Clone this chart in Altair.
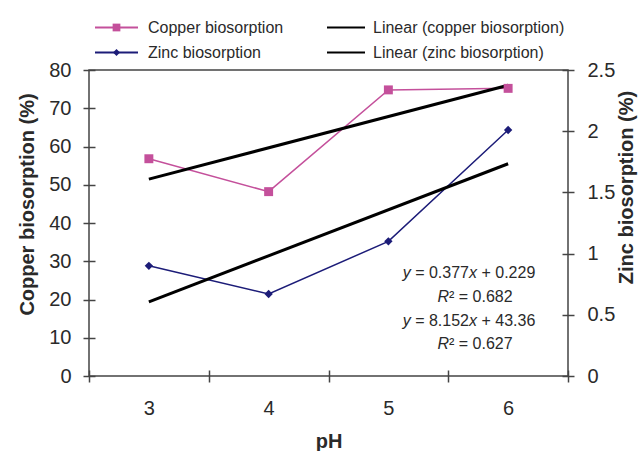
import altair as alt
import pandas as pd

# ---- data ----
ph = [3, 4, 5, 6]
copper = [56.8, 48.2, 74.8, 75.2]          # Copper biosorption (%), left axis
zinc = [0.90, 0.67, 1.10, 2.01]            # Zinc biosorption (%), right axis

copper_ticks = [0, 10, 20, 30, 40, 50, 60, 70, 80]
zinc_ticks = [0, 0.5, 1, 1.5, 2, 2.5]
x_ticks = [2.5, 3, 3.5, 4, 4.5, 5, 5.5, 6, 6.5]

series_names = ["Copper biosorption", "Zinc biosorption",
                "Linear (copper biosorption)", "Linear (zinc biosorption)"]
# trendline labels, split into (text, italic) pieces
equations = [
    [("y", True), (" = 0.377", False), ("x", True), (" + 0.229", False)],
    [("R", True), ("²", False), (" = 0.682", False)],
    [("y", True), (" = 8.152", False), ("x", True), (" + 43.36", False)],
    [("R", True), ("²", False), (" = 0.627", False)],
]

# ---- styling ----
W, H = 479, 306
FONT = "Liberation Sans"
PINK = "#c4509b"
NAVY = "#1c1c78"
AXIS = "#444444"
TXT = "#2a2a2a"

df = pd.DataFrame({"pH": ph, "copper": copper, "zinc": zinc})

x_enc = alt.X(
    "pH:Q",
    scale=alt.Scale(domain=[2.5, 6.5], nice=False, zero=False),
    axis=alt.Axis(
        values=x_ticks, grid=False, domain=False, offset=-6, tickSize=12,
        tickColor=AXIS, tickWidth=1.5,
        tickOpacity={"condition": {"test": "datum.value % 1 === 0", "value": 0}, "value": 1},
        labelExpr="datum.value % 1 === 0 ? format(datum.value, 'd') : ''",
        labelOverlap=False, labelFlush=False, labelPadding=16,
        labelFont=FONT, labelFontSize=20, labelColor=TXT,
        title="pH", titleFont=FONT, titleFontSize=20, titleFontWeight="bold",
        titleColor=TXT, titleX=W / 2, titleY=77, titleAlign="center",
        titleBaseline="alphabetic",
    ),
)

y_cu = alt.Y(
    "copper:Q",
    scale=alt.Scale(domain=[0, 80], nice=False, zero=True),
    axis=alt.Axis(
        orient="left", values=copper_ticks, grid=False, domain=False, offset=-6,
        tickSize=12, tickColor=AXIS, tickWidth=1.5, labelPadding=12, format="d",
        labelFont=FONT, labelFontSize=20, labelColor=TXT,
        title="Copper biosorption (%)", titleFont=FONT, titleFontSize=20,
        titleFontWeight="bold", titleColor=TXT, titleAngle=270,
        titleX=-68, titleY=134, titleAlign="center", titleBaseline="middle",
    ),
)

y_zn = alt.Y(
    "zinc:Q",
    scale=alt.Scale(domain=[0, 2.5], nice=False, zero=True),
    axis=alt.Axis(
        orient="right", values=zinc_ticks, grid=False, domain=False, offset=-6,
        tickSize=12, tickColor=AXIS, tickWidth=1.5, labelPadding=13, format="~g",
        labelFont=FONT, labelFontSize=20, labelColor=TXT,
        title="Zinc biosorption (%)", titleFont=FONT, titleFontSize=20,
        titleFontWeight="bold", titleColor=TXT, titleAngle=270,
        titleX=64, titleY=117, titleAlign="center", titleBaseline="middle",
    ),
)

base = alt.Chart(df)

cu_line = base.mark_line(color=PINK, strokeWidth=1.5).encode(x=x_enc, y=y_cu)
cu_trend = base.transform_regression("pH", "copper").mark_line(
    color="black", strokeWidth=3).encode(x=x_enc, y=y_cu)
cu_pts = base.mark_point(shape="square", filled=True, size=80, color=PINK,
                         opacity=1).encode(x=x_enc, y=y_cu)

zn_line = base.mark_line(color=NAVY, strokeWidth=1.5).encode(x=x_enc, y=y_zn)
zn_trend = base.transform_regression("pH", "zinc").mark_line(
    color="black", strokeWidth=3).encode(x=x_enc, y=y_zn)
zn_pts = base.mark_point(shape="diamond", filled=True, size=70, color=NAVY,
                         opacity=1).encode(x=x_enc, y=y_zn)

left = alt.layer(cu_line, cu_trend, cu_pts)
right = alt.layer(zn_line, zn_trend, zn_pts)

one = pd.DataFrame({"k": [0]})


def text_at(x, y, label, align="left", size=16, color=TXT, italic=False):
    return alt.Chart(one).mark_text(
        align=align, baseline="middle", font=FONT, fontSize=size, color=color,
        fontStyle="italic" if italic else "normal",
    ).encode(x=alt.value(x), y=alt.value(y), text=alt.value(label))


# Arial / Liberation Sans advance widths (em) for the characters used
CW = {" ": .278, "=": .584, "+": .584, ".": .278, "x": .5, "y": .5, "R": .722,
      "²": .333}
for d in "0123456789":
    CW[d] = .556


def seg_width(s, size=16):
    return sum(CW[c] for c in s) * size


def rich_line(cx, y, pieces, size=16):
    total = sum(seg_width(t, size) for t, _ in pieces)
    x = cx - total / 2
    out = []
    for t, it in pieces:
        lead = len(t) - len(t.lstrip(" "))
        out.append(text_at(x + lead * CW[" "] * size, y, t.lstrip(" "),
                           size=size, italic=it))
        x += seg_width(t, size)
    return out


def legend_item(y, x0, x1, xt, label, color, width, shape=None, size=None):
    parts = [alt.Chart(one).mark_rule(color=color, strokeWidth=width).encode(
        x=alt.value(x0), x2=alt.value(x1), y=alt.value(y))]
    if shape:
        parts.append(alt.Chart(one).mark_point(
            shape=shape, filled=True, size=size, color=color, opacity=1
        ).encode(x=alt.value((x0 + x1) / 2), y=alt.value(y)))
    parts.append(text_at(xt, y, label))
    return parts


legend = []
legend += legend_item(-42.5, 6, 49, 59, series_names[0], PINK, 2, "square", 60)
legend += legend_item(-17.5, 6, 49, 59, series_names[1], NAVY, 2, "diamond", 50)
legend += legend_item(-42.5, 238, 276, 284, series_names[2], "black", 2)
legend += legend_item(-17.5, 238, 276, 284, series_names[3], "black", 2)

eq_y = [202.5, 226.5, 250.5, 273.5]
eq_x = [380, 386, 380, 386]
eqs = []
for cx, yy, pieces in zip(eq_x, eq_y, equations):
    eqs += rich_line(cx, yy, pieces)

chart = alt.layer(left, right, *eqs, *legend).resolve_scale(
    y="independent"
).properties(
    width=W, height=H,
    autosize=alt.AutoSizeParams(type="none"),
    padding={"left": 89, "top": 70, "right": 73, "bottom": 75},
    background="white",
).configure_view(stroke=AXIS, strokeWidth=1.5)

chart.save("out.html", embed_options={"renderer": "svg", "actions": False})
